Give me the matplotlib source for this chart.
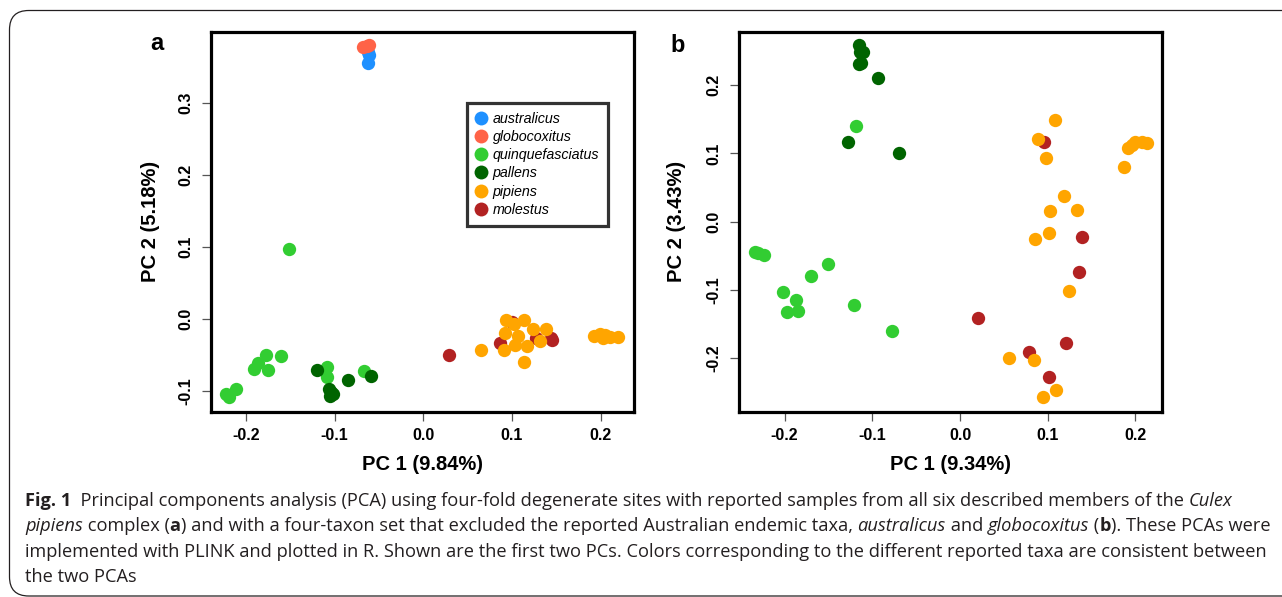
import matplotlib
matplotlib.use("Agg")
import matplotlib.pyplot as plt
from matplotlib.lines import Line2D
from matplotlib.patches import FancyBboxPatch

# ---------------- data ----------------
species = ["australicus", "globocoxitus", "quinquefasciatus", "pallens", "pipiens", "molestus"]
colors = ["#1E90FF", "#FF6347", "#32CD32", "#006400", "#FFA500", "#B22222"]

# Panel a (PC1 9.84%, PC2 5.18%)
a_australicus_x = [-0.062, -0.061, -0.062]
a_australicus_y = [0.370, 0.366, 0.355]
a_globocoxitus_x = [-0.068, -0.064, -0.061]
a_globocoxitus_y = [0.377, 0.378, 0.380]
a_quinque_x = [-0.151, -0.177, -0.160, -0.186, -0.191, -0.175, -0.211, -0.222, -0.219, -0.109, -0.109, -0.067]
a_quinque_y = [0.097, -0.049, -0.051, -0.061, -0.069, -0.070, -0.097, -0.103, -0.108, -0.066, -0.080, -0.072]
a_pallens_x = [-0.120, -0.085, -0.059, -0.106, -0.104, -0.102, -0.105]
a_pallens_y = [-0.070, -0.084, -0.078, -0.097, -0.101, -0.104, -0.106]
a_molestus_x = [0.029, 0.087, 0.100, 0.127, 0.145, 0.144]
a_molestus_y = [-0.049, -0.033, -0.004, -0.026, -0.029, -0.026]
a_pipiens_x = [0.093, 0.102, 0.114, 0.124, 0.138, 0.092, 0.107, 0.131, 0.103, 0.117, 0.091, 0.065, 0.113,
               0.192, 0.199, 0.205, 0.203, 0.211, 0.219]
a_pipiens_y = [-0.001, -0.006, -0.001, -0.013, -0.013, -0.019, -0.023, -0.030, -0.036, -0.037, -0.042, -0.042, -0.059,
               -0.023, -0.021, -0.022, -0.026, -0.024, -0.025]

# Panel b (PC1 9.34%, PC2 3.43%)
b_pallens_x = [-0.115, -0.114, -0.111, -0.115, -0.113, -0.094, -0.128, -0.069]
b_pallens_y = [0.259, 0.248, 0.248, 0.231, 0.232, 0.210, 0.116, 0.100]
b_quinque_x = [-0.119, -0.234, -0.230, -0.223, -0.151, -0.170, -0.202, -0.187, -0.197, -0.185, -0.121, -0.078]
b_quinque_y = [0.140, -0.044, -0.046, -0.049, -0.062, -0.079, -0.103, -0.114, -0.132, -0.130, -0.122, -0.160]
b_molestus_x = [0.096, 0.139, 0.136, 0.020, 0.079, 0.121, 0.101]
b_molestus_y = [0.116, -0.022, -0.074, -0.141, -0.191, -0.177, -0.228]
b_pipiens_x = [0.108, 0.089, 0.098, 0.119, 0.133, 0.103, 0.101, 0.086, 0.124, 0.056, 0.084, 0.109, 0.095,
               0.187, 0.192, 0.196, 0.200, 0.208, 0.213]
b_pipiens_y = [0.149, 0.121, 0.093, 0.038, 0.017, 0.015, -0.016, -0.025, -0.102, -0.199, -0.203, -0.246, -0.257,
               0.080, 0.108, 0.112, 0.116, 0.117, 0.115]

ticks_x = [-0.2, -0.1, 0.0, 0.1, 0.2]
a_ticks_y = [-0.1, 0.0, 0.1, 0.2, 0.3]
b_ticks_y = [-0.2, -0.1, 0.0, 0.1, 0.2]

caption_lines = [
    [("Fig. 1", "bold", "normal"),
     ("  Principal components analysis (PCA) using four-fold degenerate sites with reported samples from all six described members of the ", "normal", "normal"),
     ("Culex", "normal", "italic")],
    [("pipiens", "normal", "italic"), (" complex (", "normal", "normal"), ("a", "bold", "normal"),
     (") and with a four-taxon set that excluded the reported Australian endemic taxa, ", "normal", "normal"),
     ("australicus", "normal", "italic"), (" and ", "normal", "normal"), ("globocoxitus", "normal", "italic"),
     (" (", "normal", "normal"), ("b", "bold", "normal"), ("). These PCAs were", "normal", "normal")],
    [("implemented with PLINK and plotted in R. Shown are the first two PCs. Colors corresponding to the different reported taxa are consistent between", "normal", "normal")],
    [("the two PCAs", "normal", "normal")],
]

# ---------------- figure ----------------
W, H = 1282, 597
fig = plt.figure(figsize=(W / 100, H / 100), dpi=100)
plt.rcParams["font.family"] = ["Liberation Sans", "DejaVu Sans"]


def fx(px):
    return px / W


def fy(py):
    return 1 - py / H


# outer frame (open on right)
frame = FancyBboxPatch((fx(9.5), fy(596)), fx(1600) - fx(9.5), fy(10.5) - fy(596),
                       boxstyle="round,pad=0,rounding_size=0.015", transform=fig.transFigure,
                       fill=False, edgecolor="#231f20", linewidth=0.9, mutation_aspect=W / H)
fig.patches.append(frame)

MS = 92  # marker area


def style_axes(ax, xlim, ylim, yticks):
    ax.set_xlim(*xlim)
    ax.set_ylim(*ylim)
    ax.set_xticks(ticks_x)
    ax.set_xticklabels(["%.1f" % t for t in ticks_x])
    ax.set_yticks(yticks)
    ax.set_yticklabels(["%.1f" % t for t in yticks], rotation=90, va="center")
    for s in ax.spines.values():
        s.set_linewidth(2.3)
        s.set_color("black")
    ax.tick_params(direction="out", length=6.5, width=0.9, color="#555555",
                   labelsize=11.5, pad=5)
    ax.tick_params(axis="y", pad=6)
    for lab in ax.get_xticklabels() + ax.get_yticklabels():
        lab.set_fontweight("bold")


# Panel a
axa = fig.add_axes([fx(211), fy(412), fx(634) - fx(211), fy(31.5) - fy(412)])
axa.scatter(a_australicus_x, a_australicus_y, s=MS, color=colors[0], linewidths=0, zorder=3)
axa.scatter(a_globocoxitus_x, a_globocoxitus_y, s=MS, color=colors[1], linewidths=0, zorder=3)
axa.scatter(a_quinque_x, a_quinque_y, s=MS, color=colors[2], linewidths=0, zorder=3)
axa.scatter(a_pallens_x, a_pallens_y, s=MS, color=colors[3], linewidths=0, zorder=3)
axa.scatter(a_molestus_x, a_molestus_y, s=MS, color=colors[5], linewidths=0, zorder=3)
axa.scatter(a_pipiens_x, a_pipiens_y, s=MS, color=colors[4], linewidths=0, zorder=3)
style_axes(axa, (-0.2393, 0.2375), (-0.1284, 0.3986), a_ticks_y)

handles = [Line2D([], [], marker="o", linestyle="none", markersize=10, markerfacecolor=c,
                  markeredgewidth=0) for c in colors]
leg = axa.legend(handles, species, loc="upper left", bbox_to_anchor=(0.605, 0.812),
                 frameon=True, fancybox=False, prop={"style": "italic", "size": 10.3},
                 handlelength=0.8, handletextpad=0.4, labelspacing=0.3, borderpad=0.6,
                 borderaxespad=0)
leg.get_frame().set_edgecolor("black")
leg.get_frame().set_linewidth(2.3)

# Panel b
axb = fig.add_axes([fx(739), fy(412), fx(1162) - fx(739), fy(31.5) - fy(412)])
axb.scatter(b_pallens_x, b_pallens_y, s=MS, color=colors[3], linewidths=0, zorder=3)
axb.scatter(b_quinque_x, b_quinque_y, s=MS, color=colors[2], linewidths=0, zorder=3)
axb.scatter(b_molestus_x, b_molestus_y, s=MS, color=colors[5], linewidths=0, zorder=3)
axb.scatter(b_pipiens_x, b_pipiens_y, s=MS, color=colors[4], linewidths=0, zorder=3)
style_axes(axb, (-0.252, 0.2303), (-0.2786, 0.2785), b_ticks_y)

# axis labels and panel letters
lab_kw = dict(fontsize=14.5, fontweight="bold", ha="center", va="center")
fig.text(fx(423), fy(465), "PC 1 (9.84%)", **lab_kw)
fig.text(fx(150), fy(221), "PC 2 (5.18%)", rotation=90, **lab_kw)
fig.text(fx(950), fy(465), "PC 1 (9.34%)", **lab_kw)
fig.text(fx(677), fy(221), "PC 2 (3.43%)", rotation=90, **lab_kw)
fig.text(fx(157), fy(43), "a", fontsize=17, fontweight="bold", ha="center", va="center")
fig.text(fx(678), fy(46), "b", fontsize=17, fontweight="bold", ha="center", va="center")

# caption
renderer = fig.canvas.get_renderer()
cap_family = ["Open Sans", "DejaVu Sans"]
cap_color = "#231f20"


def piece_width(txt, size, weight, style):
    t1 = fig.text(0, 0, txt + "|", fontsize=size, fontweight=weight, fontstyle=style, family=cap_family)
    t2 = fig.text(0, 0, "|", fontsize=size, fontweight=weight, fontstyle=style, family=cap_family)
    w = t1.get_window_extent(renderer).width - t2.get_window_extent(renderer).width
    t1.remove()
    t2.remove()
    return w


base = 11.0
w2 = sum(piece_width(t, base, wt, st) for t, wt, st in caption_lines[1])
size = base * (1270 - 25) / w2

for i, line in enumerate(caption_lines):
    x = 25.0
    y = 501 + i * 25.3
    for t, wt, st in line:
        fig.text(fx(x), fy(y), t, fontsize=size, fontweight=wt, fontstyle=st, family=cap_family,
                 color=cap_color, ha="left", va="center")
        x += piece_width(t, size, wt, st)

fig.savefig("out.png", dpi=100)
